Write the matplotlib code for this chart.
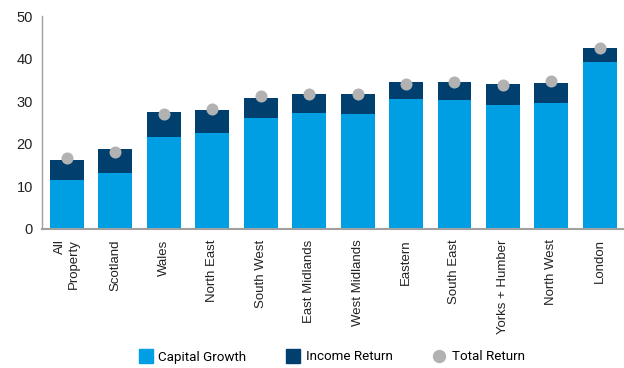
import matplotlib
matplotlib.use("Agg")
import numpy as np
import matplotlib.pyplot as plt
from matplotlib.lines import Line2D

# регионы и доходность, %
regions = ["All\nProperty", "Scotland", "Wales", "North East", "South West",
           "East Midlands", "West Midlands", "Eastern", "South East",
           "Yorks + Humber", "North West", "London"]
capital_growth = [11.5, 13.1, 21.6, 22.5, 26.1, 27.2, 27.0, 30.5, 30.3, 29.1, 29.6, 39.2]
income_return = [4.7, 5.7, 5.9, 5.4, 4.7, 4.5, 4.7, 4.0, 4.2, 4.9, 4.7, 3.3]
total_return = [16.7, 18.1, 26.9, 28.2, 31.3, 31.7, 31.7, 34.0, 34.5, 33.7, 34.7, 42.4]

c_cap = "#009fe3"
c_inc = "#003f6e"
c_tot = "#b2b2b2"
c_axis = "#a0a0a0"

plt.rcParams["font.family"] = ["Liberation Sans", "DejaVu Sans"]

fig = plt.figure(figsize=(6.24, 3.68), dpi=100)
ax = fig.add_axes([0.067, 0.378, 0.933, 0.5785])

x = np.arange(len(regions))
ax.bar(x, capital_growth, width=0.7, color=c_cap, zorder=2)
ax.bar(x, income_return, width=0.7, bottom=capital_growth, color=c_inc, zorder=2)
ax.scatter(x, total_return, s=75, color=c_tot, zorder=3, linewidths=0)

ax.set_xlim(-0.52, 11.5)
ax.set_ylim(0, 50)
ax.set_yticks([0, 10, 20, 30, 40, 50])
ax.tick_params(axis="y", length=0, pad=6.5, labelsize=10.5, colors="#222222")

ax.set_xticks(x)
ax.set_xticklabels(regions, rotation=90, fontsize=9.5, color="#222222",
                   linespacing=1.3, multialignment="right")
ax.tick_params(axis="x", length=0, pad=7.5)

for s in ["top", "right"]:
    ax.spines[s].set_visible(False)
ax.spines["left"].set_color(c_axis)
ax.spines["left"].set_linewidth(1.0)
ax.spines["bottom"].set_color(c_axis)
ax.spines["bottom"].set_linewidth(1.5)

handles = [
    Line2D([], [], color=c_cap, marker="s", ls="none", markersize=9.4, label="Capital Growth"),
    Line2D([], [], color=c_inc, marker="s", ls="none", markersize=9.4, label="Income Return"),
    Line2D([], [], color=c_tot, marker="o", ls="none", markersize=8.6, label="Total Return"),
]
fig.legend(handles=handles, loc="center", bbox_to_anchor=(332 / 624, 1 - 357 / 368),
           ncol=3, frameon=False, handlelength=1.0, handletextpad=0.45, columnspacing=3.0,
           prop={"family": ["Roboto", "Liberation Sans"], "size": 9.6})

fig.savefig("out.png", dpi=100)
